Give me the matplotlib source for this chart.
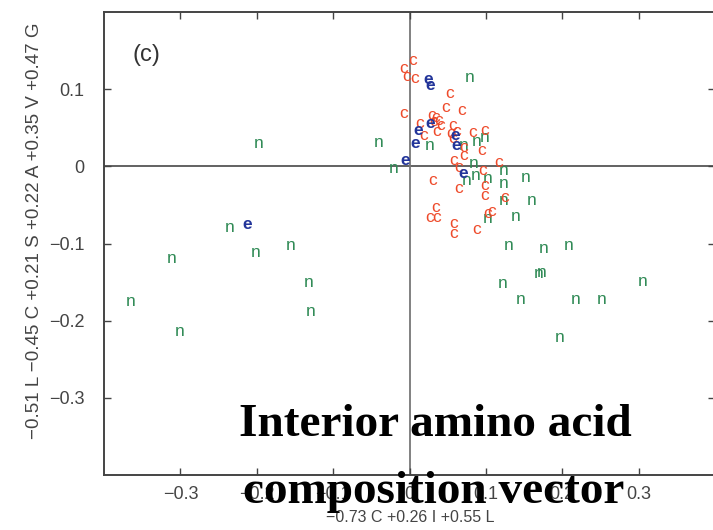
import numpy as np
import matplotlib
matplotlib.use('Agg')
import matplotlib.pyplot as plt

# projected points
n_x = [-0.198, -0.235, -0.201, -0.156, -0.312, -0.365, -0.301, -0.132, -0.129,
       -0.040, -0.021, 0.027, 0.079, 0.071, 0.088, 0.099, 0.084, 0.075, 0.086,
       0.103, 0.123, 0.123, 0.152, 0.160, 0.123, 0.139, 0.102, 0.130, 0.176,
       0.208, 0.169, 0.173, 0.122, 0.146, 0.217, 0.251, 0.305, 0.197]
n_y = [0.029, -0.079, -0.112, -0.102, -0.120, -0.175, -0.214, -0.151, -0.188,
       0.031, -0.003, 0.027, 0.115, 0.027, 0.032, 0.038, 0.004, -0.018, -0.012,
       -0.016, -0.005, -0.022, -0.014, -0.044, -0.044, -0.065, -0.068, -0.103, -0.107,
       -0.102, -0.139, -0.138, -0.152, -0.172, -0.172, -0.172, -0.149, -0.222]

c_x = [-0.008, 0.004, -0.004, 0.007, 0.053, -0.008, 0.047, 0.068, 0.029, 0.034,
       0.038, 0.041, 0.032, 0.013, 0.019, 0.035, 0.057, 0.056, 0.054, 0.062,
       0.083, 0.098, 0.095, 0.071, 0.071, 0.058, 0.064, 0.117, 0.096, 0.030,
       0.064, 0.099, 0.099, 0.125, 0.034, 0.027, 0.036, 0.058, 0.058, 0.088,
       0.102, 0.107]
c_y = [0.127, 0.137, 0.116, 0.114, 0.094, 0.069, 0.076, 0.073, 0.066, 0.063,
       0.059, 0.053, 0.058, 0.055, 0.040, 0.045, 0.053, 0.036, 0.042, 0.045,
       0.044, 0.046, 0.020, 0.025, 0.014, 0.008, -0.001, 0.005, -0.005, -0.018,
       -0.029, -0.025, -0.038, -0.040, -0.053, -0.066, -0.066, -0.074, -0.087, -0.082,
       -0.061, -0.059]

e_x = [-0.212, 0.024, 0.027, 0.027, 0.012, 0.007, -0.006, 0.060, 0.061, 0.070]
e_y = [-0.075, 0.112, 0.105, 0.056, 0.047, 0.030, 0.008, 0.040, 0.027, -0.009]

xticks = [-0.3, -0.2, -0.1, 0, 0.1, 0.2, 0.3]
xtick_labels = ['\u22120.3', '\u22120.2', '\u22120.1', '0', '0.1', '0.2', '0.3']
yticks = [-0.3, -0.2, -0.1, 0, 0.1]
ytick_labels = ['\u22120.3', '\u22120.2', '\u22120.1', '0', '0.1']

plt.rcParams['font.family'] = ['Liberation Sans', 'DejaVu Sans']

fig = plt.figure(figsize=(7.13, 5.30), dpi=100)
ax = fig.add_axes([104/713, 55/530, 611/713, 463/530])
ax.set_xlim(-0.4, 0.4)
ax.set_ylim(-0.4, 0.2)

ax.axhline(0, color='#555555', lw=1.3, zorder=1)
ax.axvline(0, color='#777777', lw=1.3, zorder=1)

mk = dict(ha='center', va='center', fontsize=12.5, zorder=3)
for x, y in zip(n_x, n_y):
    ax.text(x, y, 'n', color='#2f8a55', **mk)
for x, y in zip(c_x, c_y):
    ax.text(x, y, 'c', color='#ee4a2a', **mk)
for x, y in zip(e_x, e_y):
    ax.text(x, y, 'e', color='#23359a', fontweight='bold', **mk)

ax.set_xticks(xticks)
ax.set_xticklabels(xtick_labels)
ax.set_yticks(yticks)
ax.set_yticklabels(ytick_labels)
ax.tick_params(direction='in', length=5, width=1, colors='#444444',
               labelsize=13, top=True, right=True, pad=8)
ax.tick_params(axis='y', pad=14)
for s in ax.spines.values():
    s.set_color('#444444')
    s.set_linewidth(1.4)

ax.text(28/611, 1 - 43/463, '(c)', transform=ax.transAxes, fontsize=17, color='#333333',
        ha='left', va='center')

fig.text(410/713, 1 - 517/530, '\u22120.73 C +0.26 I +0.55 L', ha='center',
         va='center', fontsize=11.5, color='#444444')
fig.text(35/713, 1 - 231/530, '\u22120.51 L \u22120.45 C +0.21 S +0.22 A +0.35 V +0.47 G',
         rotation=90, ha='center', va='center', fontsize=13.5, color='#444444')

fig.text(435/713, 1 - 425/530, 'Interior amino acid', ha='center', va='center',
         fontsize=34, fontweight='bold', family=['Liberation Serif'], color='black')
fig.text(434/713, 1 - 492/530, 'composition vector', ha='center', va='center',
         fontsize=34, fontweight='bold', family=['Liberation Serif'], color='black')

fig.savefig('out.png', dpi=100)
